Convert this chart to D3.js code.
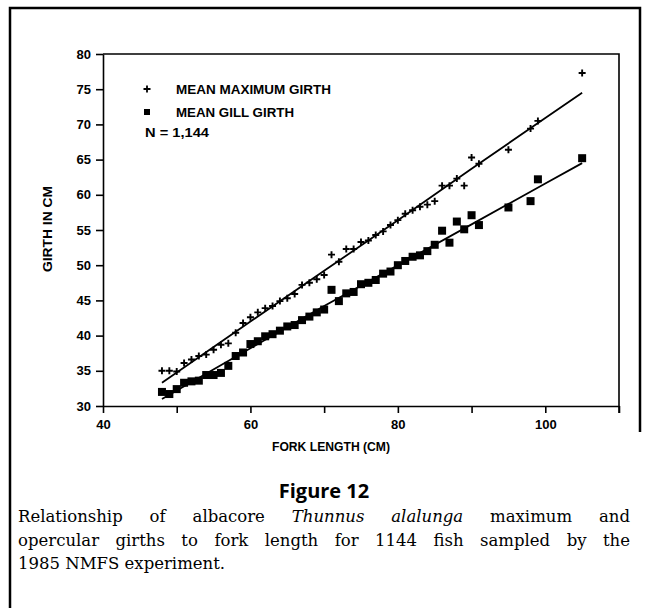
<!DOCTYPE html>
<html>
<head>
<meta charset="utf-8">
<script src="https://cdn.jsdelivr.net/npm/d3@7"></script>
<style>
  body { margin: 0; background: #fff; }
  svg { display: block; }
  .axis text { font-family: "Liberation Sans", Arial, sans-serif; font-weight: bold; font-size: 13px; fill: #000; }
  .axis path, .axis line { stroke: #000; stroke-width: 1.6; }
  .lab { font-family: "Liberation Sans", Arial, sans-serif; font-weight: bold; font-size: 13.5px; fill: #000; }
  .cap { font-family: "DejaVu Serif", "Liberation Serif", serif; font-size: 16.5px; fill: #000; }
</style>
</head>
<body>
<div id="chart"></div>
<script>
// mean girths (cm) by fork length (cm)
var forkLength = [48,49,50,51,52,53,54,55,56,57,58,59,60,61,62,63,64,65,66,67,68,69,70,
  71,72,73,74,75,76,77,78,79,80,81,82,83,84,85,86,87,88,89,90,91,95,98,99,105];
var maxGirth = [35.0,35.0,34.9,36.1,36.6,37.1,37.3,38.0,38.7,38.9,40.4,41.8,42.6,43.3,43.9,44.2,44.9,45.3,45.9,47.2,47.5,48.0,48.6,
  51.5,50.5,52.3,52.3,53.3,53.5,54.3,54.8,55.7,56.4,57.3,57.8,58.3,58.6,59.1,61.3,61.3,62.3,61.3,65.3,64.4,66.4,69.4,70.5,77.3];
var gillGirth = [32.0,31.7,32.4,33.3,33.5,33.6,34.4,34.4,34.7,35.7,37.1,37.6,38.8,39.2,39.9,40.2,40.7,41.3,41.5,42.2,42.7,43.3,43.7,
  46.5,44.9,46.0,46.2,47.3,47.5,47.9,48.8,49.1,50.0,50.6,51.2,51.4,52.0,52.9,54.9,53.2,56.2,55.1,57.1,55.7,58.2,59.1,62.2,65.2];

// fitted curves
var fitX = [48,60,70,80,90,100,105];
var maxFit = [33.3,42.0,49.2,56.4,63.7,70.9,74.5];
var gillFit = [31.0,38.2,44.2,50.0,55.8,61.6,64.5];

var yTicks = [30,35,40,45,50,55,60,65,70,75,80];
var xTicks = [40,50,60,70,80,90,100,110];

var width = 646, height = 608;

var svg = d3.select("#chart").append("svg")
  .attr("width", width)
  .attr("height", height);

// outer figure box
svg.append("path")
  .attr("d", "M10,608V8H640V432")
  .attr("fill", "none")
  .attr("stroke", "#000")
  .attr("stroke-width", 2.5);

var x = d3.scaleLinear().domain([40, 110]).range([103, 619]);
var y = d3.scaleLinear().domain([30, 80]).range([406, 54]);

// plot frame top + right
svg.append("path")
  .attr("d", "M" + x(40) + "," + y(80) + "H" + x(110) + "V" + (y(30) + 7))
  .attr("fill", "none")
  .attr("stroke", "#000")
  .attr("stroke-width", 1.6);

svg.append("g")
  .attr("class", "axis")
  .attr("transform", "translate(" + x(40) + ",0)")
  .call(d3.axisLeft(y).tickValues(yTicks).tickSize(7).tickSizeOuter(0).tickPadding(5));

svg.append("g")
  .attr("class", "axis")
  .attr("transform", "translate(0," + y(30) + ")")
  .call(d3.axisBottom(x).tickValues(xTicks).tickSize(7).tickSizeOuter(0).tickPadding(7)
    .tickFormat(function(d){ return d % 20 === 0 ? d : ""; }));

svg.append("text")
  .attr("class", "lab")
  .attr("x", 331).attr("y", 451)
  .attr("text-anchor", "middle")
  .attr("textLength", 118).attr("lengthAdjust", "spacingAndGlyphs")
  .text("FORK LENGTH (CM)");

svg.append("text")
  .attr("class", "lab")
  .attr("transform", "translate(52,229) rotate(-90)")
  .attr("text-anchor", "middle")
  .attr("textLength", 86).attr("lengthAdjust", "spacingAndGlyphs")
  .text("GIRTH IN CM");

var line = d3.line()
  .x(function(d){ return x(d[0]); })
  .y(function(d){ return y(d[1]); });

svg.append("path")
  .datum(d3.zip(fitX, maxFit))
  .attr("d", line)
  .attr("fill", "none").attr("stroke", "#000").attr("stroke-width", 1.8);

svg.append("path")
  .datum(d3.zip(fitX, gillFit))
  .attr("d", line)
  .attr("fill", "none").attr("stroke", "#000").attr("stroke-width", 1.8);

var plus = "M-3.5,0H3.5M0,-3.5V3.5";

svg.selectAll(".maxpt")
  .data(d3.zip(forkLength, maxGirth))
  .enter().append("path")
  .attr("class", "maxpt")
  .attr("d", plus)
  .attr("transform", function(d){ return "translate(" + x(d[0]) + "," + y(d[1]) + ")"; })
  .attr("stroke", "#000").attr("stroke-width", 1.9);

var sq = 8;
svg.selectAll(".gillpt")
  .data(d3.zip(forkLength, gillGirth))
  .enter().append("rect")
  .attr("class", "gillpt")
  .attr("x", function(d){ return x(d[0]) - sq / 2; })
  .attr("y", function(d){ return y(d[1]) - sq / 2; })
  .attr("width", sq).attr("height", sq)
  .attr("fill", "#000");

// legend
svg.append("path").attr("d", plus)
  .attr("transform", "translate(147,89)")
  .attr("stroke", "#000").attr("stroke-width", 1.8);
svg.append("rect")
  .attr("x", 144).attr("y", 109).attr("width", 6).attr("height", 6)
  .attr("fill", "#000");

svg.append("text").attr("class", "lab")
  .attr("x", 176).attr("y", 94)
  .attr("textLength", 155).attr("lengthAdjust", "spacingAndGlyphs")
  .text("MEAN MAXIMUM GIRTH");
svg.append("text").attr("class", "lab")
  .attr("x", 176).attr("y", 116.5)
  .attr("textLength", 118).attr("lengthAdjust", "spacingAndGlyphs")
  .text("MEAN GILL GIRTH");
svg.append("text").attr("class", "lab")
  .attr("x", 145).attr("y", 137)
  .attr("textLength", 64).attr("lengthAdjust", "spacingAndGlyphs")
  .text("N = 1,144");

// caption
svg.append("text")
  .attr("x", 324).attr("y", 498)
  .attr("text-anchor", "middle")
  .style("font-family", "'Open Sans', sans-serif")
  .style("font-weight", "bold")
  .style("font-size", "20px")
  .text("Figure 12");

var capLines = [
  [["Relationship of albacore ", false], ["Thunnus alalunga", true], [" maximum and", false]],
  [["opercular girths to fork length for 1144 fish sampled by the", false]],
  [["1985 NMFS experiment.", false]]
];

capLines.forEach(function(parts, i){
  var t = svg.append("text")
    .attr("class", "cap")
    .attr("x", 18)
    .attr("y", 522 + i * 23.5);
  parts.forEach(function(p){
    t.append("tspan").style("font-style", p[1] ? "italic" : "normal").text(p[0]);
  });
  if (i < capLines.length - 1) {
    var full = parts.map(function(p){ return p[0]; }).join("");
    var spaces = full.split(" ").length - 1;
    var natural = t.node().getComputedTextLength();
    t.attr("word-spacing", (630 - 18 - natural) / spaces);
  }
});
</script>
</body>
</html>
